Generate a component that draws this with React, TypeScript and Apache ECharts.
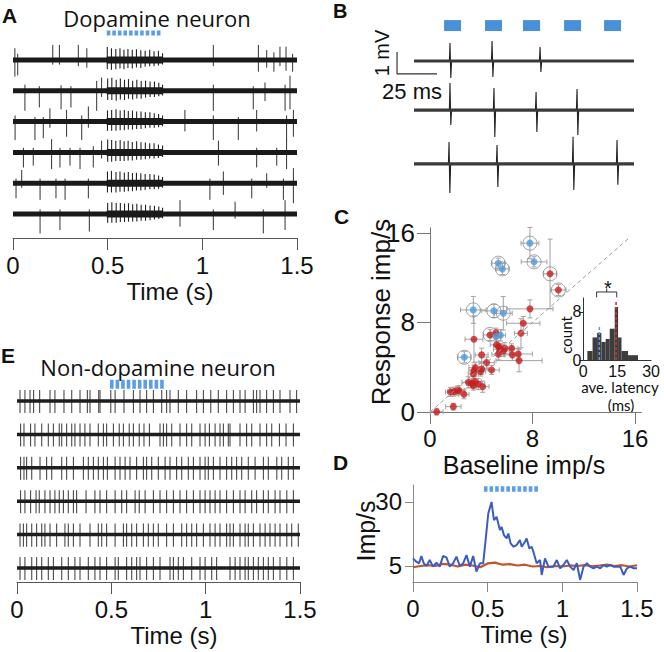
import React, { useEffect, useRef } from "react";
import * as echarts from "echarts";

const ARIAL = '"Liberation Sans", Arial, Helvetica, sans-serif';
const MYRIAD = '"Open Sans", "Noto Sans", sans-serif';
const NARROW = 'Lato, "Open Sans", sans-serif';

// ---------------- Panel A: dopamine neuron traces (time in s, rows 0..5) ----------------
const aTimeTicks = [0, 0.5, 1, 1.5];
const aStim = [0.495, 0.789];
const aStimRow = -0.877;
const aBurstSpan = [0.495, 0.79];
// [time s, up, down] (row units)
const aSpikesRow1 = [[0.01, 0.38, 0.54], [0.025, 0.2, 0.5], [0.21, 0.49, 0.15], [0.245, 0.49, 0.15], [0.345, 0.49, 0.2], [0.39, 0.38, 0.25], [1.058, 0.49, 0.2], [1.296, 0.49, 0.38], [1.34, 0.32, 0.25], [1.378, 0.25, 0.38], [1.41, 0.43, 0.2], [1.442, 0.43, 0.35], [1.477, 0.2, 0.38]];
const aSpikesRow2 = [[0.063, 0.2, 0.65], [0.139, 0.15, 0.54], [0.254, 0.18, 0.6], [0.306, 0.15, 0.54], [0.442, 0.32, 0.65], [0.468, 0.43, 0.2], [1.058, 0.2, 0.65], [1.269, 0.15, 0.6], [1.331, 0.27, 0.33], [1.437, 0.2, 0.65], [1.463, 0.49, 0.6]];
const aSpikesRow3 = [[0.011, 0.2, 0.6], [0.116, 0.15, 0.6], [0.16, 0.15, 0.54], [0.195, 0.43, 0.2], [0.283, 0.38, 0.49], [0.363, 0.2, 0.6], [0.398, 0.49, 0.2], [0.908, 0.38, 0.32], [1.058, 0.2, 0.6], [1.19, 0.15, 0.6], [1.287, 0.38, 0.32], [1.445, 0.2, 0.6], [1.481, 0.38, 0.49]];
const aSpikesRow4 = [[0.055, 0.15, 0.49], [0.107, 0.15, 0.43], [0.204, 0.43, 0.54], [0.248, 0.15, 0.49], [0.301, 0.15, 0.43], [0.354, 0.15, 0.54], [0.424, 0.2, 0.49], [0.468, 0.38, 0.2], [1.085, 0.38, 0.43], [1.287, 0.15, 0.49], [1.393, 0.15, 0.43], [1.445, 0.43, 0.54]];
const aSpikesRow5 = [[0.016, 0.15, 0.49], [0.046, 0.43, 0.15], [0.143, 0.15, 0.54], [0.227, 0.15, 0.49], [0.275, 0.15, 0.54], [0.398, 0.15, 0.49], [1.04, 0.15, 0.54], [1.111, 0.38, 0.38], [1.261, 0.15, 0.49], [1.34, 0.32, 0.15], [1.428, 0.15, 0.54], [1.481, 0.49, 0.65]];
const aSpikesRow6 = [[0.143, 0.15, 0.63], [0.248, 0.15, 0.52], [0.403, 0.15, 0.57], [0.882, 0.45, 0.41], [1.058, 0.15, 0.52], [1.173, 0.4, 0.15], [1.322, 0.15, 0.63], [1.437, 0.45, 0.52]];
const aBurstRow1 = [[0.498, 0.42, 0.3], [0.52, 0.38, 0.32], [0.543, 0.36, 0.3], [0.565, 0.38, 0.28], [0.586, 0.33, 0.3], [0.607, 0.36, 0.26], [0.63, 0.33, 0.28], [0.652, 0.35, 0.24], [0.675, 0.32, 0.26], [0.698, 0.3, 0.22], [0.722, 0.33, 0.2], [0.745, 0.28, 0.2], [0.768, 0.3, 0.18], [0.79, 0.22, 0.15]];
const aBurstRow2 = [[0.5, 0.4, 0.3], [0.522, 0.42, 0.3], [0.545, 0.36, 0.32], [0.567, 0.4, 0.28], [0.589, 0.36, 0.3], [0.61, 0.38, 0.26], [0.632, 0.33, 0.28], [0.654, 0.36, 0.25], [0.677, 0.32, 0.26], [0.7, 0.33, 0.22], [0.724, 0.3, 0.2], [0.747, 0.3, 0.2], [0.77, 0.26, 0.18], [0.79, 0.2, 0.15]];
const aBurstRow3 = [[0.499, 0.36, 0.3], [0.521, 0.38, 0.3], [0.544, 0.4, 0.3], [0.566, 0.36, 0.28], [0.588, 0.38, 0.28], [0.609, 0.34, 0.26], [0.631, 0.36, 0.26], [0.653, 0.33, 0.24], [0.676, 0.33, 0.24], [0.699, 0.3, 0.22], [0.723, 0.3, 0.2], [0.746, 0.27, 0.2], [0.769, 0.25, 0.18], [0.79, 0.2, 0.15]];
const aBurstRow4 = [[0.5, 0.42, 0.3], [0.521, 0.4, 0.3], [0.543, 0.38, 0.28], [0.566, 0.4, 0.28], [0.587, 0.36, 0.28], [0.608, 0.38, 0.26], [0.63, 0.34, 0.26], [0.653, 0.36, 0.24], [0.676, 0.33, 0.24], [0.699, 0.32, 0.22], [0.722, 0.3, 0.2], [0.745, 0.3, 0.2], [0.768, 0.26, 0.18], [0.79, 0.22, 0.15]];
const aBurstRow5 = [[0.499, 0.38, 0.3], [0.52, 0.4, 0.3], [0.544, 0.36, 0.3], [0.565, 0.38, 0.28], [0.588, 0.35, 0.28], [0.609, 0.36, 0.26], [0.631, 0.33, 0.26], [0.652, 0.34, 0.24], [0.675, 0.32, 0.24], [0.698, 0.3, 0.22], [0.723, 0.3, 0.2], [0.746, 0.28, 0.2], [0.769, 0.25, 0.18], [0.79, 0.2, 0.15]];
const aBurstRow6 = [[0.5, 0.36, 0.28], [0.522, 0.38, 0.28], [0.545, 0.36, 0.28], [0.567, 0.36, 0.26], [0.589, 0.34, 0.26], [0.61, 0.35, 0.25], [0.632, 0.32, 0.24], [0.654, 0.33, 0.24], [0.677, 0.3, 0.22], [0.7, 0.3, 0.22], [0.724, 0.28, 0.2], [0.747, 0.27, 0.18], [0.77, 0.24, 0.16], [0.79, 0.2, 0.14]];
const aSpikes = [aSpikesRow1, aSpikesRow2, aSpikesRow3, aSpikesRow4, aSpikesRow5, aSpikesRow6];
const aBursts = [aBurstRow1, aBurstRow2, aBurstRow3, aBurstRow4, aBurstRow5, aBurstRow6];

// ---------------- Panel B: example sweeps (ms, mV) ----------------
const bDuration = 137.5;
const bBaselines = [6.32, 4.09, 1.64];
// [time ms, up mV, down mV]
const bSpikesRow1 = [[22.5, 0.82, 0.77], [48.8, 0.91, 0.73], [78.8, 0.64, 0.5]];
const bSpikesRow2 = [[22.5, 1.23, 0.68], [50.0, 1.0, 1.23], [76.3, 0.82, 1.0], [101.9, 0.95, 1.14]];
const bSpikesRow3 = [[21.9, 1.0, 1.32], [51.9, 0.86, 1.05], [99.4, 1.23, 1.18], [126.9, 1.09, 0.95]];
const bSpikes = [bSpikesRow1, bSpikesRow2, bSpikesRow3];
const bPulses = [[18.8, 29.4], [44.4, 55.0], [68.1, 78.8], [93.8, 104.4], [118.8, 129.4]];
const bPulseLevel = [7.68, 8.18];
const bScaleOrigin = [-10.6, 5.73];
const bScaleMs = 25;
const bScaleMv = 1;

// ---------------- Panel C: response vs baseline (imp/s) ----------------
const cTicks = [0, 8, 16];
const cUnityEnd = 15.5;
// [baseline, response, x error, y error]
const cBlue = [
  [7.8, 15.08, 0.7, 1.4], [8.12, 13.41, 1.0, 0.45], [5.33, 13.29, 0.5, 0.45], [5.65, 12.78, 0.5, 0.5],
  [3.38, 9.12, 1.0, 1.2], [4.99, 9.03, 1.0, 0.6], [5.72, 8.82, 0.7, 1.5], [5.15, 6.72, 0.4, 0.4],
  [5.5, 6.85, 0.4, 0.5], [2.68, 4.89, 0.5, 0.5],
];
const cRed = [
  [9.37, 12.34, 0.5, 3.1], [10.02, 10.9, 0.6, 0.5], [7.8, 9.21, 1.8, 0.8], [7.28, 7.93, 1.3, 0.6],
  [7.1, 7.03, 0.5, 1.3], [3.43, 6.5, 0.7, 2.1], [4.68, 6.88, 0.5, 0.5], [5.15, 7.09, 0.4, 0.4],
  [5.2, 6.0, 0.5, 0.8], [5.36, 5.84, 0.4, 0.5], [5.46, 5.6, 0.5, 0.5], [5.85, 5.69, 0.6, 0.5],
  [6.37, 5.69, 0.5, 0.4], [5.72, 5.45, 0.5, 0.5], [5.33, 5.15, 0.5, 0.5], [6.43, 5.1, 0.6, 0.5],
  [6.89, 5.18, 1.1, 0.5], [6.95, 4.59, 1.8, 1.0], [4.03, 5.1, 0.5, 0.6], [4.42, 4.41, 0.6, 0.5],
  [3.54, 3.96, 0.5, 0.5], [4.03, 3.84, 0.5, 0.5], [3.95, 3.61, 0.4, 0.4], [3.43, 3.69, 0.4, 0.5],
  [3.38, 3.4, 0.4, 0.4], [4.81, 3.75, 0.6, 0.4], [2.99, 2.65, 0.5, 0.5], [3.25, 2.56, 0.4, 0.4],
  [3.51, 2.71, 0.5, 0.5], [3.77, 2.5, 0.5, 0.5], [4.11, 2.26, 0.5, 0.5], [3.38, 2.35, 0.4, 0.4],
  [2.13, 1.91, 0.6, 0.4], [1.87, 1.82, 0.5, 0.4], [1.61, 1.79, 0.4, 0.4], [2.26, 1.95, 0.4, 0.4],
  [2.65, 1.58, 0.4, 0.4], [1.82, 0.48, 0.6, 0.3], [0.52, 0.03, 0.5, 0.3],
];
const cRinged = [
  [7.8, 15.08], [8.12, 13.41], [5.33, 13.29], [5.65, 12.78], [3.38, 9.12], [4.99, 9.03],
  [5.72, 8.82], [4.68, 6.93], [2.68, 4.89], [9.37, 12.34], [10.02, 10.9],
];
// inset histogram: [bin start ms, bin end ms, count]
const histBins = [
  [1.8, 4.1, 1.5], [4.1, 6.1, 3.75], [6.1, 8.0, 4.5], [8.0, 9.9, 3.0], [9.9, 11.7, 3.5],
  [11.7, 13.9, 5.2], [13.9, 15.4, 8.8], [15.4, 16.9, 3.75], [16.9, 19.8, 1.5], [19.8, 24.2, 0.8],
];
const histTicksX = [0, 15, 30];
const histTicksY = [0, 8];
const latencyBlue = [7.1, 5.5];
const latencyRed = [14.5, 9.8];
const sigBracket = [5.9, 14.8, 10.4, 11.3];

// ---------------- Panel D: PSTH (s, imp/s) ----------------
const dTicksX = [0, 0.5, 1, 1.5];
const dTicksY = [5, 30];
const dStim = [0.475, 0.85];
const dStimLevel = 35;
const dBlue = [
  [0, 7.98], [0.022, 6.68], [0.04, 6.04], [0.056, 8.89], [0.072, 6.04], [0.09, 5.0], [0.112, 7.33], [0.134, 4.74],
  [0.157, 6.3], [0.179, 4.74], [0.201, 8.89], [0.224, 8.37], [0.246, 4.74], [0.269, 6.04], [0.291, 8.63], [0.313, 5.0],
  [0.336, 6.04], [0.358, 9.27], [0.381, 4.74], [0.403, 8.89], [0.425, 2.8], [0.448, 6.04], [0.47, 6.04], [0.493, 18.99],
  [0.504, 25.47], [0.526, 30.0], [0.542, 22.88], [0.56, 24.17], [0.582, 18.99], [0.593, 20.28], [0.609, 17.05], [0.627, 15.75],
  [0.638, 17.69], [0.654, 13.81], [0.672, 12.51], [0.694, 13.16], [0.716, 15.1], [0.728, 12.51], [0.75, 14.46], [0.761, 15.75],
  [0.779, 11.87], [0.795, 12.51], [0.806, 10.57], [0.828, 6.04], [0.851, 7.33], [0.862, 1.5], [0.884, 7.98], [0.907, 4.74],
  [0.94, 4.74], [0.963, 7.33], [0.985, 4.09], [1.007, 5.39], [1.03, 7.33], [1.052, 4.74], [1.075, 3.45], [1.097, 6.04],
  [1.119, -0.44], [1.142, 4.74], [1.164, 6.04], [1.186, 4.74], [1.209, 4.09], [1.231, 4.74], [1.254, 4.09], [1.276, 5.39],
  [1.298, 4.74], [1.321, 5.39], [1.343, 4.74], [1.388, 4.74], [1.41, 1.5], [1.433, 4.09], [1.455, 4.74], [1.478, 4.09], [1.5, 4.09],
];
const dRed = [
  [0, 4.5], [0.05, 5.0], [0.1, 5.3], [0.15, 5.0], [0.2, 5.8], [0.25, 5.5], [0.3, 4.8], [0.35, 5.5], [0.4, 5.2], [0.45, 4.5],
  [0.5, 6.0], [0.55, 6.3], [0.6, 5.5], [0.65, 5.7], [0.7, 5.2], [0.75, 5.5], [0.8, 4.8], [0.85, 5.0], [0.9, 4.5], [0.95, 5.0],
  [1.0, 4.8], [1.05, 5.2], [1.1, 5.0], [1.15, 5.3], [1.2, 4.9], [1.25, 5.2], [1.3, 5.5], [1.35, 5.0], [1.4, 5.3], [1.45, 4.8], [1.5, 5.3],
];

// ---------------- Panel E: non-dopamine neuron (spike times, s) ----------------
const eStim = [0.493, 0.788];
const eStimRow = -0.5;
const eSpikeUp = 0.33;
const eSpikeDown = 0.36;
const eRow1 = [0.016, 0.042, 0.069, 0.088, 0.12, 0.175, 0.201, 0.249, 0.29, 0.334, 0.373, 0.387, 0.433, 0.44, 0.497, 0.52, 0.567, 0.617, 0.652, 0.687, 0.723, 0.767, 0.793, 0.811, 0.855, 0.899, 0.952, 0.988, 1.027, 1.067, 1.111, 1.147, 1.182, 1.209, 1.253, 1.27, 1.288, 1.323, 1.359, 1.394, 1.447, 1.482];
const eRow2 = [0.019, 0.037, 0.072, 0.095, 0.131, 0.166, 0.193, 0.224, 0.237, 0.263, 0.29, 0.307, 0.334, 0.36, 0.387, 0.431, 0.458, 0.475, 0.511, 0.542, 0.564, 0.595, 0.617, 0.648, 0.673, 0.702, 0.758, 0.776, 0.793, 0.82, 0.864, 0.899, 0.926, 0.97, 0.997, 1.02, 1.05, 1.076, 1.094, 1.12, 1.129, 1.182, 1.217, 1.244, 1.288, 1.323, 1.35, 1.391, 1.426, 1.465];
const eRow3 = [0.019, 0.037, 0.051, 0.078, 0.122, 0.157, 0.184, 0.237, 0.263, 0.299, 0.352, 0.378, 0.405, 0.431, 0.458, 0.479, 0.52, 0.546, 0.573, 0.599, 0.634, 0.67, 0.687, 0.714, 0.749, 0.785, 0.811, 0.846, 0.873, 0.908, 0.935, 0.97, 0.997, 1.014, 1.041, 1.076, 1.111, 1.138, 1.164, 1.191, 1.226, 1.262, 1.306, 1.332, 1.377, 1.403, 1.438, 1.465];
const eRow4 = [0.019, 0.042, 0.072, 0.101, 0.118, 0.148, 0.175, 0.201, 0.224, 0.246, 0.272, 0.299, 0.316, 0.366, 0.413, 0.44, 0.475, 0.52, 0.555, 0.581, 0.626, 0.648, 0.679, 0.723, 0.758, 0.793, 0.829, 0.864, 0.899, 0.935, 0.97, 0.997, 1.023, 1.05, 1.076, 1.111, 1.147, 1.182, 1.209, 1.244, 1.27, 1.306, 1.332, 1.368, 1.394, 1.43, 1.465];
const eRow5 = [0.016, 0.034, 0.051, 0.078, 0.104, 0.131, 0.148, 0.175, 0.21, 0.254, 0.272, 0.299, 0.334, 0.387, 0.431, 0.449, 0.475, 0.52, 0.564, 0.581, 0.608, 0.634, 0.67, 0.696, 0.723, 0.749, 0.793, 0.829, 0.873, 0.899, 0.926, 0.952, 0.988, 1.023, 1.05, 1.076, 1.111, 1.129, 1.147, 1.182, 1.209, 1.226, 1.253, 1.288, 1.315, 1.341, 1.368, 1.394, 1.43, 1.456, 1.491];
const eRow6 = [0.016, 0.042, 0.078, 0.104, 0.131, 0.166, 0.193, 0.237, 0.272, 0.307, 0.334, 0.378, 0.413, 0.44, 0.475, 0.52, 0.537, 0.581, 0.608, 0.634, 0.652, 0.687, 0.723, 0.758, 0.811, 0.829, 0.855, 0.882, 0.926, 0.97, 0.997, 1.032, 1.058, 1.129, 1.156, 1.182, 1.209, 1.226, 1.253, 1.279, 1.306, 1.332, 1.359, 1.394, 1.43, 1.465];
const eSpikes = [eRow1, eRow2, eRow3, eRow4, eRow5, eRow6];

// ---------------- colours ----------------
const STIM_BLUE = "#5b9ee6";
const PULSE_BLUE = "#4a90d9";
const POINT_BLUE = "#4b9be0";
const POINT_RED = "#c91d1d";
const LINE_BLUE = "#3b5cc0";
const LINE_RED = "#c5522b";

function vSpikeRender(color: string, width: number) {
  return (_p: any, api: any) => {
    const t = api.value(0), row = api.value(1), up = api.value(2), dn = api.value(3);
    const a = api.coord([t, row - up]);
    const b = api.coord([t, row + dn]);
    return { type: "line", shape: { x1: a[0], y1: a[1], x2: b[0], y2: b[1] }, style: { stroke: color, lineWidth: width } };
  };
}

function lineSeries(idx: number, data: any[], color: string, width: number, extra: any = {}) {
  const { lineStyle, ...rest } = extra;
  return {
    type: "line", xAxisIndex: idx, yAxisIndex: idx, data, symbol: "none", silent: true,
    lineStyle: { color, width, ...(lineStyle || {}) },
    ...rest,
  };
}

function buildOption() {
  const series: any[] = [];

  // Panel A
  aSpikes.forEach((_, row) => {
    series.push(lineSeries(0, [[0, row], [1.5, row]], "#1a1a1a", 5));
    series.push(lineSeries(0, [[aBurstSpan[0], row], [aBurstSpan[1], row]], "#1a1a1a", 7));
  });
  series.push({
    type: "custom", xAxisIndex: 0, yAxisIndex: 0, silent: true,
    data: aSpikes.flatMap((arr, row) => arr.map((s) => [s[0], row, s[1], s[2]])),
    renderItem: vSpikeRender("#333", 1),
  });
  series.push({
    type: "custom", xAxisIndex: 0, yAxisIndex: 0, silent: true,
    data: aBursts.flatMap((arr, row) => arr.map((s) => [s[0], row, s[1], s[2]])),
    renderItem: vSpikeRender("#222", 1.1),
  });
  series.push(lineSeries(0, [[aStim[0], aStimRow], [aStim[1], aStimRow]], STIM_BLUE, 5, { lineStyle: { type: [3.6, 1.97] } }));

  // Panel B
  bBaselines.forEach((base) => series.push(lineSeries(1, [[0, base], [bDuration, base]], "#3a3a3a", 3.2)));
  series.push({
    type: "custom", xAxisIndex: 1, yAxisIndex: 1, silent: true,
    data: bSpikes.flatMap((arr, row) => arr.map((s) => [s[0], bBaselines[row], s[1], s[2]])),
    renderItem: (_p: any, api: any) => {
      const t = api.value(0), base = api.value(1), up = api.value(2), dn = api.value(3);
      const pts = [[t - 0.4, base], [t, base + up], [t + 0.5, base - dn], [t + 1.0, base]].map((p) => api.coord(p));
      return { type: "polyline", shape: { points: pts }, style: { stroke: "#222", lineWidth: 1.1, fill: "none" } };
    },
  });
  series.push({
    type: "custom", xAxisIndex: 1, yAxisIndex: 1, silent: true,
    data: bPulses,
    renderItem: (_p: any, api: any) => {
      const a = api.coord([api.value(0), bPulseLevel[1]]);
      const b = api.coord([api.value(1), bPulseLevel[0]]);
      return { type: "rect", shape: { x: a[0], y: a[1], width: b[0] - a[0], height: b[1] - a[1] }, style: { fill: PULSE_BLUE } };
    },
  });
  series.push(lineSeries(1, [
    [bScaleOrigin[0], bScaleOrigin[1] + bScaleMv], [bScaleOrigin[0], bScaleOrigin[1]], [bScaleOrigin[0] + bScaleMs, bScaleOrigin[1]],
  ], "#333", 1.2));

  // Panel C
  series.push({
    type: "custom", xAxisIndex: 2, yAxisIndex: 2, silent: true,
    data: [...cRed, ...cBlue],
    renderItem: (_p: any, api: any) => {
      const x = api.value(0), y = api.value(1), ex = api.value(2), ey = api.value(3);
      const L = api.coord([x - ex, y]), R = api.coord([x + ex, y]), T = api.coord([x, y + ey]), B = api.coord([x, y - ey]);
      const c = 2.5;
      const ln = (x1: number, y1: number, x2: number, y2: number) => ({ type: "line", shape: { x1, y1, x2, y2 }, style: { stroke: "#a3a3a3", lineWidth: 1 } });
      return { type: "group", children: [
        ln(L[0], L[1], R[0], R[1]), ln(T[0], T[1], B[0], B[1]),
        ln(L[0], L[1] - c, L[0], L[1] + c), ln(R[0], R[1] - c, R[0], R[1] + c),
        ln(T[0] - c, T[1], T[0] + c, T[1]), ln(B[0] - c, B[1], B[0] + c, B[1]),
      ] };
    },
  });
  series.push(lineSeries(2, [[0, 0], [cUnityEnd, cUnityEnd]], "#999", 1, { lineStyle: { type: [4, 3] } }));
  series.push({ type: "scatter", xAxisIndex: 2, yAxisIndex: 2, silent: true, data: cRed.map((p) => [p[0], p[1]]), symbolSize: 7, itemStyle: { color: POINT_RED } });
  series.push({ type: "scatter", xAxisIndex: 2, yAxisIndex: 2, silent: true, data: cBlue.map((p) => [p[0], p[1]]), symbolSize: 7, itemStyle: { color: POINT_BLUE } });
  series.push({ type: "scatter", xAxisIndex: 2, yAxisIndex: 2, silent: true, data: cRinged, symbolSize: 14, itemStyle: { color: "rgba(0,0,0,0)", borderColor: "#8a8a8a", borderWidth: 1 } });

  // Inset histogram
  series.push({
    type: "custom", xAxisIndex: 3, yAxisIndex: 3, silent: true,
    data: histBins,
    renderItem: (_p: any, api: any) => {
      const a = api.coord([api.value(0), api.value(2)]);
      const b = api.coord([api.value(1), 0]);
      return { type: "rect", shape: { x: a[0], y: a[1], width: b[0] - a[0], height: b[1] - a[1] }, style: { fill: "#3d3d3d" } };
    },
  });
  series.push(lineSeries(3, [[latencyBlue[0], 0], [latencyBlue[0], latencyBlue[1]]], STIM_BLUE, 1.6, { lineStyle: { type: [3, 2] } }));
  series.push(lineSeries(3, [[latencyRed[0], 0], [latencyRed[0], latencyRed[1]]], "#d0312b", 1.6, { lineStyle: { type: [3, 2] } }));
  series.push(lineSeries(3, [
    [sigBracket[0], sigBracket[2]], [sigBracket[0], sigBracket[3]], [sigBracket[1], sigBracket[3]], [sigBracket[1], sigBracket[2]],
  ], "#333", 1, { clip: false }));
  series.push(lineSeries(3, [
    [(sigBracket[0] + sigBracket[1]) / 2, sigBracket[3]], [(sigBracket[0] + sigBracket[1]) / 2, sigBracket[3] + 0.6],
  ], "#333", 1, { clip: false }));

  // Panel D
  series.push(lineSeries(4, dRed, LINE_RED, 2.2));
  series.push(lineSeries(4, dBlue, LINE_BLUE, 2));
  series.push(lineSeries(4, [[dStim[0], dStimLevel], [dStim[1], dStimLevel]], STIM_BLUE, 5.5, { lineStyle: { type: [3.6, 2.0] } }));

  // Panel E
  eSpikes.forEach((_, row) => series.push(lineSeries(5, [[0, row], [1.5, row]], "#1e1e1e", 3.5)));
  series.push({
    type: "custom", xAxisIndex: 5, yAxisIndex: 5, silent: true,
    data: eSpikes.flatMap((arr, row) => arr.map((t) => [t, row, eSpikeUp, eSpikeDown])),
    renderItem: vSpikeRender("#4a4a4a", 1.1),
  });
  series.push(lineSeries(5, [[eStim[0], eStimRow], [eStim[1], eStimRow]], STIM_BLUE, 9, { lineStyle: { type: [3.6, 1.97] } }));

  const axisCommon = (color: string, ticks: number[], len: number, fontSize: number, margin: number) => ({
    type: "value",
    axisLine: { show: true, onZero: false, lineStyle: { color, width: 1 } },
    axisTick: { show: len > 0, length: len, customValues: ticks, lineStyle: { color, width: 1 } },
    axisLabel: { show: true, customValues: ticks, fontSize, margin, color: "#111", fontFamily: ARIAL, lineHeight: fontSize },
    splitLine: { show: false },
  });
  const hidden = (min: number, max: number, inverse = false) => ({ type: "value", show: false, min, max, inverse, splitLine: { show: false } });

  const grids = [
    { left: 13, top: 25, width: 284, height: 213 },
    { left: 390, top: 15, width: 244, height: 185 },
    { left: 430, top: 227.8, width: 211.4, height: 184.2 },
    { left: 583.3, top: 298, width: 67.8, height: 62 },
    { left: 413, top: 485, width: 224, height: 97 },
    { left: 17, top: 376, width: 283, height: 206 },
  ].map((g) => ({ ...g, containLabel: false, outerBoundsMode: "none", show: false }));

  const xAxis = [
    { gridIndex: 0, min: 0, max: 1.5, ...axisCommon("#555", aTimeTicks, 12, 24, 15) },
    { gridIndex: 1, ...hidden(-15, bDuration) },
    { gridIndex: 2, min: 0, max: 16.5, ...axisCommon("#777", cTicks, 12, 24, 14) },
    { gridIndex: 3, min: 0, max: 30, ...axisCommon("#333", histTicksX, 0, 16, 3) },
    { gridIndex: 4, min: 0, max: 1.5, ...axisCommon("#888", dTicksX, 10, 24, 14) },
    { gridIndex: 5, min: 0, max: 1.5, ...axisCommon("#555", aTimeTicks, 12, 24, 15) },
  ];
  const yAxis = [
    { gridIndex: 0, ...hidden(-1.136, 5.779, true) },
    { gridIndex: 1, ...hidden(0, 8.41) },
    { gridIndex: 2, min: 0, max: 16.45, ...axisCommon("#777", cTicks, 13, 26, 15) },
    { gridIndex: 3, min: 0, max: 10.3, ...axisCommon("#333", histTicksY, 4, 16, 2) },
    { gridIndex: 4, min: -1.25, max: 36.6, ...axisCommon("#888", dTicksY, 8, 24, 11) },
    { gridIndex: 5, ...hidden(-0.749, 5.419, true) },
  ];

  const txt = (text: string, x: number, y: number, fontSize: number, opts: any = {}) => ({
    type: "text", x, y, rotation: opts.rotation || 0, silent: true,
    style: {
      text, fontSize, fontFamily: opts.fontFamily || ARIAL, fontWeight: opts.fontWeight || "normal",
      fill: "#111", align: opts.align || "center", verticalAlign: "middle", lineHeight: fontSize,
    },
  });
  const graphic = [
    txt("A", 2, 15, 21, { fontWeight: "bold", align: "left" }),
    txt("Dopamine neuron", 157, 18, 22, { fontFamily: MYRIAD }),
    txt("Time (s)", 170, 291, 24),
    txt("B", 333, 11, 20, { fontWeight: "bold", align: "left" }),
    txt("1 mV", 382, 53, 20, { rotation: Math.PI / 2 }),
    txt("25 ms", 412, 91, 22),
    txt("C", 334, 216, 21, { fontWeight: "bold", align: "left" }),
    txt("Response imp/s", 381, 312, 26, { rotation: Math.PI / 2 }),
    txt("Baseline imp/s", 524, 465, 25),
    txt("count", 566, 335, 15, { rotation: Math.PI / 2, fontFamily: NARROW }),
    txt("ave. latency", 620, 387, 15, { fontFamily: NARROW }),
    txt("(ms)", 621, 405, 15, { fontFamily: NARROW }),
    txt("*", 608, 288, 20),
    txt("D", 333, 462, 21, { fontWeight: "bold", align: "left" }),
    txt("Imp/s", 366, 531, 25, { rotation: Math.PI / 2 }),
    txt("Time (s)", 524, 634, 24),
    txt("E", 1, 355, 21, { fontWeight: "bold", align: "left" }),
    txt("Non-dopamine neuron", 158, 367, 22, { fontFamily: MYRIAD }),
    txt("Time (s)", 174, 635, 24),
  ];

  return {
    animation: false,
    backgroundColor: "#ffffff",
    textStyle: { fontFamily: ARIAL },
    grid: grids,
    xAxis,
    yAxis,
    series,
    graphic,
  };
}

export default function App() {
  const ref = useRef<HTMLDivElement>(null);
  useEffect(() => {
    if (!ref.current) return;
    const chart = echarts.init(ref.current, null, { renderer: "svg" });
    chart.setOption(buildOption() as any);
    return () => chart.dispose();
  }, []);
  return (
    <div
      ref={ref}
      style={{ position: "absolute", left: 0, top: 0, width: 664, height: 652, background: "#fff" }}
    />
  );
}
